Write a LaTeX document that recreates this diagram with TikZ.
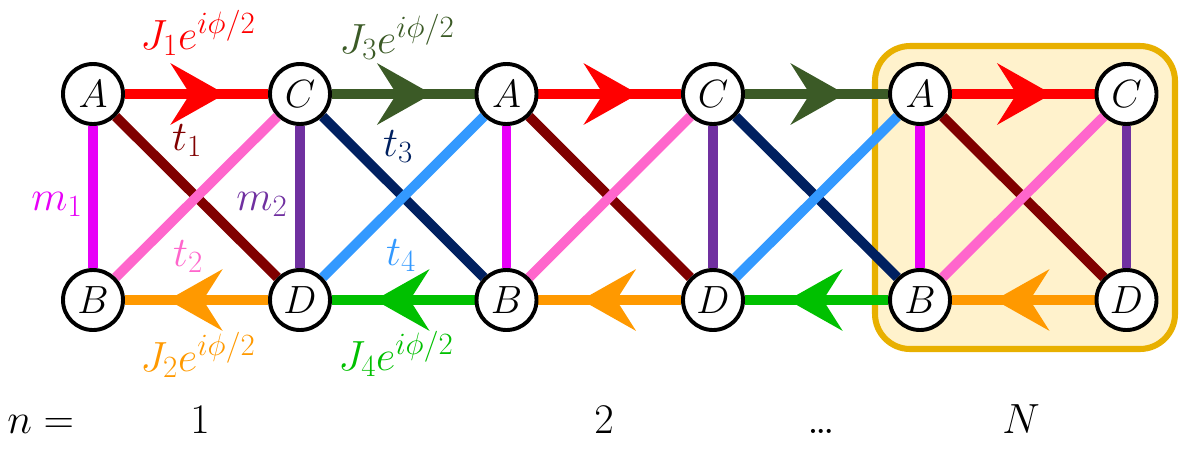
\RequirePackage{fix-cm}
\documentclass[tikz,border=0pt]{standalone}
\usetikzlibrary{arrows.meta,decorations.markings}
\definecolor{cred}{HTML}{FF0000}
\definecolor{cdgreen}{HTML}{3B5A26}
\definecolor{cmaroon}{HTML}{800000}
\definecolor{cpink}{HTML}{FF66CC}
\definecolor{cnavy}{HTML}{002060}
\definecolor{clblue}{HTML}{3399FF}
\definecolor{cmag}{HTML}{E800F8}
\definecolor{cpurple}{HTML}{7030A0}
\definecolor{corange}{HTML}{FF9900}
\definecolor{cgreen}{HTML}{00C000}
\definecolor{cgold}{HTML}{E8B000}
\definecolor{cbox}{HTML}{FFF2CC}
\DeclareMathSizes{30}{30}{22}{16}
\DeclareMathSizes{28}{28}{20}{15}
\pgfdeclarelayer{boxlayer}
\pgfdeclarelayer{edgelayer}
\pgfsetlayers{boxlayer,edgelayer,main}
\begin{document}
\begin{tikzpicture}[x=0.025cm,y=-0.025cm,
  site/.style={circle,draw=black,line width=2.8pt,fill=white,minimum size=1.5cm,inner sep=0pt,
    font=\fontsize{28}{32}\selectfont},
  lab/.style={font=\fontsize{30}{34}\selectfont,inner sep=0pt},
  bond/.style={line width=7pt},
  flow/.style={bond,postaction={decorate},decoration={markings,
    mark=at position 0.7 with {\arrow{Stealth[length=39pt,width=44pt,inset=14pt,line width=0pt]}}}},
  cellbox/.style={line width=4.3pt,draw=cgold,fill=cbox,rounded corners=25pt}]
\useasboundingbox (0,0) rectangle (1196,468);
% sites
\foreach \k/\xa/\xc in {1/93/300,2/506.5/713,3/920/1126.5}{
  \node[site] (A\k) at (\xa,94) {$A$};
  \node[site] (B\k) at (\xa,300) {$B$};
  \node[site] (C\k) at (\xc,94) {$C$};
  \node[site] (D\k) at (\xc,300) {$D$};
}
\begin{pgfonlayer}{boxlayer}
  \draw[cellbox] (875,46) rectangle (1175,349);
\end{pgfonlayer}
\begin{pgfonlayer}{edgelayer}
  \foreach \k in {1,2,3}{
    \draw[bond,cmag] (A\k) -- (B\k);
    \draw[bond,cpurple] (C\k) -- (D\k);
    \draw[bond,cmaroon] (A\k) -- (D\k);
    \draw[bond,cpink] (C\k) -- (B\k);
    \draw[flow,cred] (A\k) -- (C\k);
    \draw[flow,corange] (D\k) -- (B\k);
  }
  \foreach \k/\m in {1/2,2/3}{
    \draw[bond,cnavy] (C\k) -- (B\m);
    \draw[bond,clblue] (D\k) -- (A\m);
    \draw[flow,cdgreen] (C\k) -- (A\m);
    \draw[flow,cgreen] (B\m) -- (D\k);
  }
\end{pgfonlayer}
% labels
\node[lab,cred,anchor=base] (J1) at (198,49) {$J_1e^{i\phi/2}$};
\node[lab,cdgreen,anchor=base] (J3) at (397,53) {$J_3e^{i\phi/2}$};
\node[lab,corange,anchor=base] (J2) at (198,371) {$J_2e^{i\phi/2}$};
\node[lab,cgreen,anchor=base] (J4) at (396,370) {$J_4e^{i\phi/2}$};
\node[lab,cmaroon,anchor=base] (t1) at (187,150) {$t_1$};
\node[lab,cnavy,anchor=base] (t3) at (398,156) {$t_3$};
\node[lab,cpink,anchor=base] (t2) at (188,266) {$t_2$};
\node[lab,clblue,anchor=base] (t4) at (401,265) {$t_4$};
\node[lab,cmag,anchor=base] (m1) at (57,210) {$m_1$};
\node[lab,cpurple,anchor=base] (m2) at (262,210) {$m_2$};
% cell index
\node[lab,anchor=base west] (n) at (7,433) {$n=$};
\node[lab,anchor=base] (n1) at (200,433) {$1$};
\node[lab,anchor=base] (n2) at (604,433) {$2$};
\node[lab,anchor=base] (ndots) at (821,433) {$.\mkern-1.5mu.\mkern-1.5mu.$};
\node[lab,anchor=base] (nN) at (1021,433) {$N$};
\end{tikzpicture}
\end{document}
